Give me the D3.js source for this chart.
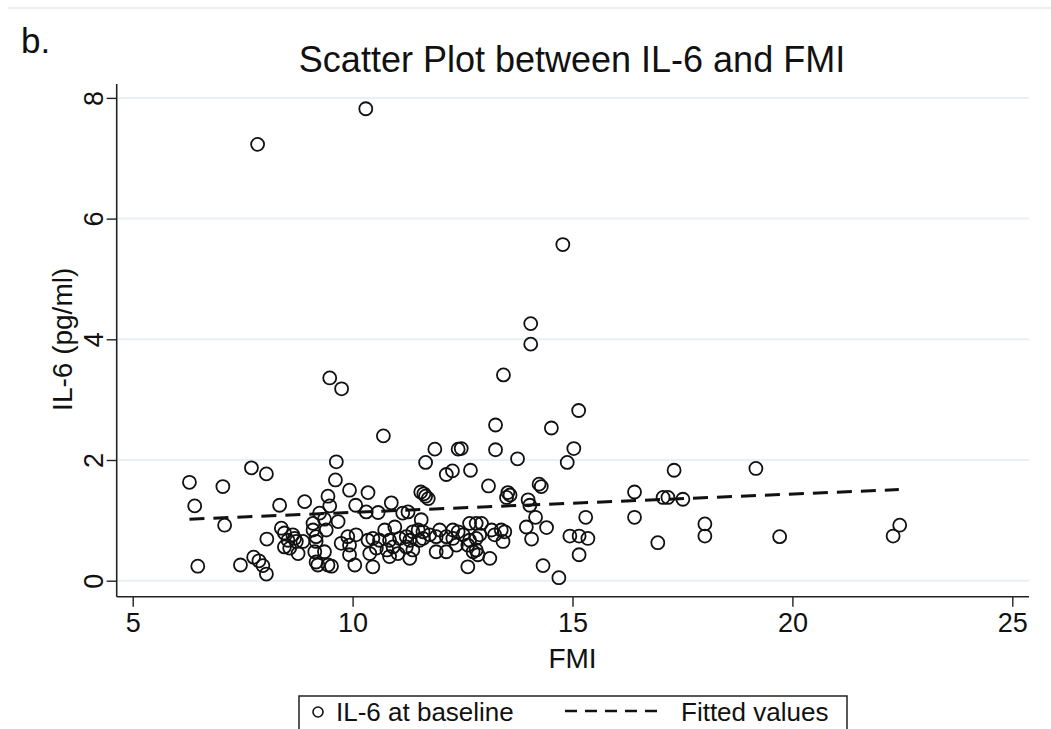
<!DOCTYPE html>
<html>
<head>
<meta charset="utf-8">
<script src="https://cdn.jsdelivr.net/npm/d3@7"></script>
<style>
  body { margin: 0; background: #fff; }
  svg { display: block; }
  text { font-family: "Liberation Sans", Arial, sans-serif; fill: #111; }
</style>
</head>
<body>
<div id="chart"></div>
<script>
// values
const fmi = [
  6.29, 6.41, 6.48, 7.05, 7.09, 7.70, 8.04, 7.45, 7.75, 7.87, 7.96, 8.04, 8.05,
  7.84, 10.30, 14.78, 14.05, 14.05, 13.43, 9.48, 9.75, 10.70, 15.14, 13.25, 14.52,
  8.34, 8.91, 9.44, 9.48, 9.25, 9.63, 9.61, 9.67, 9.36, 9.10, 8.38, 8.45, 8.64, 8.53,
  8.72, 8.87, 9.10, 9.17, 9.40, 8.45, 8.57, 8.76, 9.14, 9.36, 9.17, 9.21, 9.44, 9.52,
  9.74, 9.93, 9.89, 9.93, 9.93, 8.68, 9.17,
  10.35, 10.07, 10.31, 10.58, 10.88, 10.08, 10.35, 10.46, 10.39, 10.05, 10.73, 10.96,
  10.61, 10.84, 10.46, 10.54, 10.78, 10.92, 10.84, 11.03,
  11.26, 11.14, 11.56, 11.37, 11.49, 11.60, 11.98, 11.07, 11.22, 11.30, 11.52, 11.60,
  11.75, 11.90, 11.22, 11.37, 11.30, 11.90, 11.87, 11.66, 11.55, 11.62, 11.66, 11.72,
  12.13, 12.27, 12.68, 12.40, 12.47, 12.28, 12.40, 12.66, 12.81, 12.13, 12.28, 12.51,
  12.66, 12.81, 12.13, 12.36, 12.62, 12.74, 12.62, 12.93, 12.89, 12.81, 12.85,
  13.25, 13.75, 13.09, 13.53, 13.58, 13.50, 13.99, 14.03, 13.16, 13.38, 13.23, 13.46,
  13.42, 13.12, 13.95, 14.07,
  14.24, 14.29, 14.88, 15.03, 14.16, 14.41, 14.94, 15.15, 15.35, 15.30, 15.15, 14.33, 14.69,
  16.41, 16.41, 16.94, 17.31, 17.06, 17.17, 17.51, 18.01, 18.01, 19.17, 19.71, 22.44, 22.29
];
const il6 = [
  1.63, 1.24, 0.24, 1.56, 0.92, 1.87, 1.77, 0.26, 0.39, 0.33, 0.25, 0.11, 0.69,
  7.23, 7.82, 5.57, 4.26, 3.92, 3.41, 3.36, 3.18, 2.40, 2.82, 2.58, 2.53,
  1.25, 1.31, 1.40, 1.24, 1.12, 1.97, 1.67, 0.98, 1.02, 0.95, 0.87, 0.79, 0.76, 0.67,
  0.65, 0.65, 0.84, 0.73, 0.84, 0.56, 0.54, 0.45, 0.48, 0.48, 0.31, 0.26, 0.26, 0.24,
  0.62, 0.59, 0.73, 0.43, 1.50, 0.70, 0.65,
  1.46, 1.25, 1.14, 1.13, 1.29, 0.76, 0.67, 0.70, 0.45, 0.26, 0.84, 0.89,
  0.67, 0.67, 0.23, 0.54, 0.51, 0.56, 0.40, 0.45,
  1.14, 1.12, 1.01, 0.81, 0.84, 0.81, 0.84, 0.70, 0.73, 0.67, 0.67, 0.70,
  0.76, 0.73, 0.56, 0.51, 0.37, 0.48, 2.18, 1.96, 1.47, 1.44, 1.40, 1.36,
  1.76, 1.82, 1.83, 2.18, 2.19, 0.84, 0.81, 0.95, 0.95, 0.73, 0.70, 0.76,
  0.67, 0.70, 0.48, 0.59, 0.59, 0.48, 0.23, 0.95, 0.76, 0.51, 0.43,
  2.17, 2.02, 1.57, 1.46, 1.42, 1.38, 1.34, 1.25, 0.84, 0.84, 0.76, 0.81,
  0.65, 0.37, 0.89, 0.69,
  1.60, 1.56, 1.96, 2.19, 1.05, 0.88, 0.74, 0.74, 0.70, 1.05, 0.43, 0.25, 0.05,
  1.47, 1.05, 0.63, 1.83, 1.38, 1.38, 1.35, 0.94, 0.74, 1.86, 0.73, 0.92, 0.74
];
// fitted values line (end points)
const fitX = [6.29, 22.42];
const fitY = [1.02, 1.51];
const xTicks = [5, 10, 15, 20, 25];
const yTicks = [0, 2, 4, 6, 8];

const W = 1051, H = 729;
const svg = d3.select("#chart").append("svg")
  .attr("width", W).attr("height", H);

// faint frame line at the very top
svg.append("line")
  .attr("x1", 8).attr("x2", W).attr("y1", 8).attr("y2", 8)
  .attr("stroke", "#eeeeee").attr("stroke-width", 2);

const x = d3.scaleLinear().domain([5, 25]).range([132.7, 1012.3]);
const y = d3.scaleLinear().domain([0, 8]).range([580.7, 97.9]);

const plotLeft = 116.7, plotRight = 1029, axisY = 596.7;

// gridlines
svg.append("g")
  .selectAll("line")
  .data(yTicks)
  .join("line")
  .attr("x1", plotLeft).attr("x2", plotRight)
  .attr("y1", d => y(d)).attr("y2", d => y(d))
  .attr("stroke", "#e9eff2").attr("stroke-width", 2);

// x axis
const xAxis = svg.append("g")
  .attr("transform", `translate(0,${axisY})`)
  .call(d3.axisBottom(x).tickValues(xTicks).tickSize(10).tickPadding(6).tickFormat(d3.format("d")));
xAxis.select(".domain").attr("d", `M${plotLeft},0H${plotRight}`)
  .attr("stroke", "#222").attr("stroke-width", 1.6);
xAxis.selectAll(".tick line").attr("stroke", "#222").attr("stroke-width", 1.4);
xAxis.selectAll(".tick text")
  .style("font-size", "27px").attr("fill", "#111");

// y axis
const yAxis = svg.append("g")
  .attr("transform", `translate(${plotLeft},0)`)
  .call(d3.axisLeft(y).tickValues(yTicks).tickSize(10).tickPadding(0).tickFormat(d3.format("d")));
yAxis.select(".domain").attr("d", `M0,84V${axisY}`)
  .attr("stroke", "#222").attr("stroke-width", 1.6);
yAxis.selectAll(".tick line").attr("stroke", "#222").attr("stroke-width", 1.4);
yAxis.selectAll(".tick text")
  .attr("x", null).attr("dy", null)
  .attr("transform", "translate(-14,0) rotate(-90)")
  .attr("text-anchor", "middle")
  .style("font-size", "27px").attr("fill", "#111");

// axis titles
svg.append("text")
  .attr("x", x(15)).attr("y", 668)
  .attr("text-anchor", "middle")
  .style("font-size", "28px")
  .text("FMI");

svg.append("text")
  .attr("transform", `translate(72,${y(4)}) rotate(-90)`)
  .attr("text-anchor", "middle")
  .style("font-size", "28px")
  .text("IL-6 (pg/ml)");

// title and panel letter
svg.append("text")
  .attr("x", 572).attr("y", 72)
  .attr("text-anchor", "middle")
  .style("font-size", "36px")
  .text("Scatter Plot between IL-6 and FMI");

svg.append("text")
  .attr("x", 21).attr("y", 53)
  .style("font-size", "35px")
  .text("b.");

// fitted line
const pts = fitX.map((d, i) => [d, fitY[i]]);
svg.append("path")
  .datum(pts)
  .attr("d", d3.line().x(d => x(d[0])).y(d => y(d[1])))
  .attr("fill", "none")
  .attr("stroke", "#111")
  .attr("stroke-width", 3)
  .attr("stroke-dasharray", "15 9");

// scatter points
svg.append("g")
  .selectAll("circle")
  .data(fmi.map((d, i) => [d, il6[i]]))
  .join("circle")
  .attr("cx", d => x(d[0]))
  .attr("cy", d => y(d[1]))
  .attr("r", 6.5)
  .attr("fill", "none")
  .attr("stroke", "#111")
  .attr("stroke-width", 1.8);

// legend
const lg = svg.append("g");
lg.append("rect")
  .attr("x", 299).attr("y", 696).attr("width", 548).attr("height", 50)
  .attr("fill", "#fff").attr("stroke", "#222").attr("stroke-width", 1.5);
lg.append("circle")
  .attr("cx", 318).attr("cy", 712).attr("r", 5)
  .attr("fill", "none").attr("stroke", "#111").attr("stroke-width", 1.6);
lg.append("text")
  .attr("x", 336).attr("y", 721)
  .style("font-size", "26px")
  .text("IL-6 at baseline");
lg.append("line")
  .attr("x1", 565).attr("x2", 660).attr("y1", 711).attr("y2", 711)
  .attr("stroke", "#111").attr("stroke-width", 2.5)
  .attr("stroke-dasharray", "12 8");
lg.append("text")
  .attr("x", 681).attr("y", 721)
  .style("font-size", "26px")
  .text("Fitted values");
</script>
</body>
</html>
